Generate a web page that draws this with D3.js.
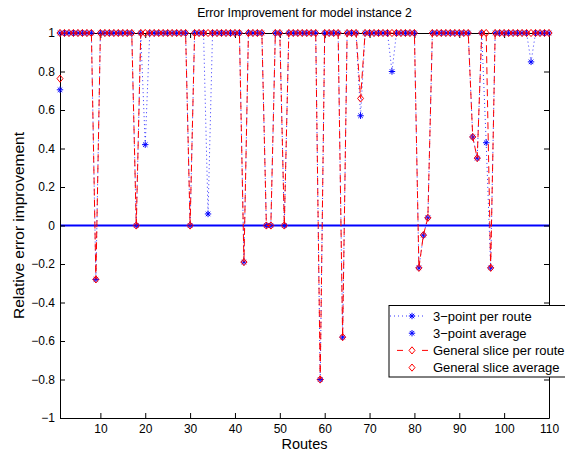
<!DOCTYPE html>
<html>
<head>
<meta charset="utf-8">
<script src="https://cdn.jsdelivr.net/npm/d3@7"></script>
<style>
  body { margin: 0; background: #fff; }
  svg { display: block; font-family: "Liberation Sans", Arial, sans-serif; }
</style>
</head>
<body>
<script>
// error improvement per route, two methods

const width = 565;
const height = 454;
const margin = {top: 33, left: 60, bottom: 36, right: 16};

const routes = d3.range(1, 111);

// 3-point per route
const threePoint = [
    1, 1, 1, 1, 1, 1, 1, 1, -0.28, 1,
    1, 1, 1, 1, 1, 1, 1, 0, 1, 0.42,
    1, 1, 1, 1, 1, 1, 1, 1, 1, 0,
    1, 1, 1, 0.06, 1, 1, 1, 1, 1, 1,
    1, -0.19, 1, 1, 1, 1, 0, 0, 1, 1,
    0, 1, 1, 1, 1, 1, 1, 1, -0.80, 1,
    1, 1, 1, -0.58, 1, 1, 1, 0.57, 1, 1,
    1, 1, 1, 1, 0.80, 1, 1, 1, 1, 1,
    -0.22, -0.05, 0.04, 1, 1, 1, 1, 1, 1, 1,
    1, 1, 0.46, 0.35, 1, 0.43, -0.22, 1, 1, 1,
    1, 1, 1, 1, 1, 0.85, 1, 1, 1, 1
];

// general slice per route
const generalSlice = [
    1, 1, 1, 1, 1, 1, 1, 1, -0.28, 1,
    1, 1, 1, 1, 1, 1, 1, 0, 1, 1,
    1, 1, 1, 1, 1, 1, 1, 1, 1, 0,
    1, 1, 1, 1, 1, 1, 1, 1, 1, 1,
    1, -0.19, 1, 1, 1, 1, 0, 0, 1, 1,
    0, 1, 1, 1, 1, 1, 1, 1, -0.80, 1,
    1, 1, 1, -0.58, 1, 1, 1, 0.66, 1, 1,
    1, 1, 1, 1, 1, 1, 1, 1, 1, 1,
    -0.22, -0.05, 0.04, 1, 1, 1, 1, 1, 1, 1,
    1, 1, 0.46, 0.35, 1, 1, -0.22, 1, 1, 1,
    1, 1, 1, 1, 1, 1, 1, 1, 1, 1
];

// averages (drawn at route 1)
const threePointAvg = [{route: 1, value: 0.705}];
const generalSliceAvg = [{route: 1, value: 0.763}];

const xTicks = [10, 20, 30, 40, 50, 60, 70, 80, 90, 100, 110];
const yTicks = [-1, -0.8, -0.6, -0.4, -0.2, 0, 0.2, 0.4, 0.6, 0.8, 1];

const legendItems = ['3\u2212point per route', '3\u2212point average', 'General slice per route', 'General slice average'];

const blue = '#0000ff';
const red = '#ff0000';

const x = d3.scaleLinear()
    .domain([1, 110])
    .range([margin.left, width - margin.right]);

const y = d3.scaleLinear()
    .domain([-1, 1])
    .range([height - margin.bottom, margin.top]);

const svg = d3.select('body').append('svg')
    .attr('width', width)
    .attr('height', height);

const fmt = d3.format('~g');

function styleAxis(g) {
    g.attr('font-family', null).attr('font-size', 12);
    g.select('.domain').attr('stroke', '#000').attr('stroke-width', 1);
    g.selectAll('.tick line').attr('stroke', '#000');
    g.selectAll('.tick text').attr('fill', '#000');
}

// zero line first, data goes over it
svg.append('line')
    .attr('x1', x(1)).attr('x2', x(110))
    .attr('y1', y(0)).attr('y2', y(0))
    .attr('stroke', blue)
    .attr('stroke-width', 2);

// axes box
svg.append('g')
    .attr('transform', `translate(0, ${y(-1)})`)
    .call(d3.axisBottom(x).tickValues(xTicks).tickFormat(fmt).tickSizeInner(-5).tickSizeOuter(0).tickPadding(6))
    .call(styleAxis);
svg.append('g')
    .attr('transform', `translate(0, ${y(1)})`)
    .call(d3.axisTop(x).tickValues(xTicks).tickFormat('').tickSizeInner(-5).tickSizeOuter(0))
    .call(styleAxis);
svg.append('g')
    .attr('transform', `translate(${x(1)}, 0)`)
    .call(d3.axisLeft(y).tickValues(yTicks).tickFormat(fmt).tickSizeInner(-5).tickSizeOuter(0).tickPadding(5))
    .call(styleAxis);
svg.append('g')
    .attr('transform', `translate(${x(110)}, 0)`)
    .call(d3.axisRight(y).tickValues(yTicks).tickFormat('').tickSizeInner(-5).tickSizeOuter(0))
    .call(styleAxis);

// marker shapes
const starPath = s => {
    const a = s * 0.7;
    return `M${-s},0L${s},0M0,${-s}L0,${s}M${-a},${-a}L${a},${a}M${-a},${a}L${a},${-a}`;
};
const diamondPath = (rx, ry) => `M0,${-ry}L${rx},0L0,${ry}L${-rx},0Z`;

const line = d3.line()
    .x((d, i) => x(routes[i]))
    .y(d => y(d));

function drawStars(g, data) {
    g.selectAll('path').data(data).enter().append('path')
        .attr('transform', d => `translate(${x(d.route)}, ${y(d.value)})`)
        .attr('d', starPath(3.2))
        .attr('fill', 'none')
        .attr('stroke', blue)
        .attr('stroke-width', 1);
}

function drawDiamonds(g, data) {
    g.selectAll('path').data(data).enter().append('path')
        .attr('transform', d => `translate(${x(d.route)}, ${y(d.value)})`)
        .attr('d', diamondPath(3, 3.6))
        .attr('fill', 'none')
        .attr('stroke', red)
        .attr('stroke-width', 1);
}

// 3-point per route
svg.append('path')
    .datum(threePoint)
    .attr('d', line)
    .attr('fill', 'none')
    .attr('stroke', blue)
    .attr('stroke-width', 0.8)
    .attr('stroke-dasharray', '1,3');
svg.append('g').call(drawStars, threePoint.map((v, i) => ({route: routes[i], value: v})));

// 3-point average
svg.append('g').call(drawStars, threePointAvg);

// general slice per route
svg.append('path')
    .datum(generalSlice)
    .attr('d', line)
    .attr('fill', 'none')
    .attr('stroke', red)
    .attr('stroke-width', 1)
    .attr('stroke-dasharray', '7,4');
svg.append('g').call(drawDiamonds, generalSlice.map((v, i) => ({route: routes[i], value: v})));

// general slice average
svg.append('g').call(drawDiamonds, generalSliceAvg);

// title and labels
svg.append('text')
    .attr('x', (x(1) + x(110)) / 2)
    .attr('y', 17)
    .attr('text-anchor', 'middle')
    .attr('font-size', 12.2)
    .text('Error Improvement for model instance 2');

svg.append('text')
    .attr('x', (x(1) + x(110)) / 2)
    .attr('y', 449)
    .attr('text-anchor', 'middle')
    .attr('font-size', 14.5)
    .text('Routes');

svg.append('text')
    .attr('transform', `translate(23.5, ${y(0)}) rotate(-90)`)
    .attr('text-anchor', 'middle')
    .attr('font-size', 15.5)
    .text('Relative error improvement');

// legend
const legend = svg.append('g').attr('transform', 'translate(389, 305.5)');
legend.append('rect')
    .attr('width', 185).attr('height', 71.5)
    .attr('fill', '#fff')
    .attr('stroke', '#000')
    .attr('stroke-width', 1);

const rowY = i => 10.5 + i * 17.2;
const sx = 23;

legend.append('line')
    .attr('x1', 1).attr('x2', 36).attr('y1', rowY(0)).attr('y2', rowY(0))
    .attr('stroke', blue).attr('stroke-width', 0.8).attr('stroke-dasharray', '1,3');
legend.append('path').attr('transform', `translate(${sx}, ${rowY(0)})`)
    .attr('d', starPath(3.2)).attr('fill', 'none').attr('stroke', blue);
legend.append('path').attr('transform', `translate(${sx}, ${rowY(1)})`)
    .attr('d', starPath(3.2)).attr('fill', 'none').attr('stroke', blue);
legend.append('line')
    .attr('x1', 8).attr('x2', 39).attr('y1', rowY(2)).attr('y2', rowY(2))
    .attr('stroke', red).attr('stroke-width', 1).attr('stroke-dasharray', '6,19,6');
legend.append('path').attr('transform', `translate(${sx}, ${rowY(2)})`)
    .attr('d', diamondPath(3, 3.6)).attr('fill', 'none').attr('stroke', red);
legend.append('path').attr('transform', `translate(${sx}, ${rowY(3)})`)
    .attr('d', diamondPath(3, 3.6)).attr('fill', 'none').attr('stroke', red);

legend.selectAll('text.item').data(legendItems).enter().append('text')
    .attr('class', 'item')
    .attr('x', 44)
    .attr('y', (d, i) => rowY(i))
    .attr('dy', '0.35em')
    .attr('font-size', 13)
    .text(d => d);
</script>
</body>
</html>
